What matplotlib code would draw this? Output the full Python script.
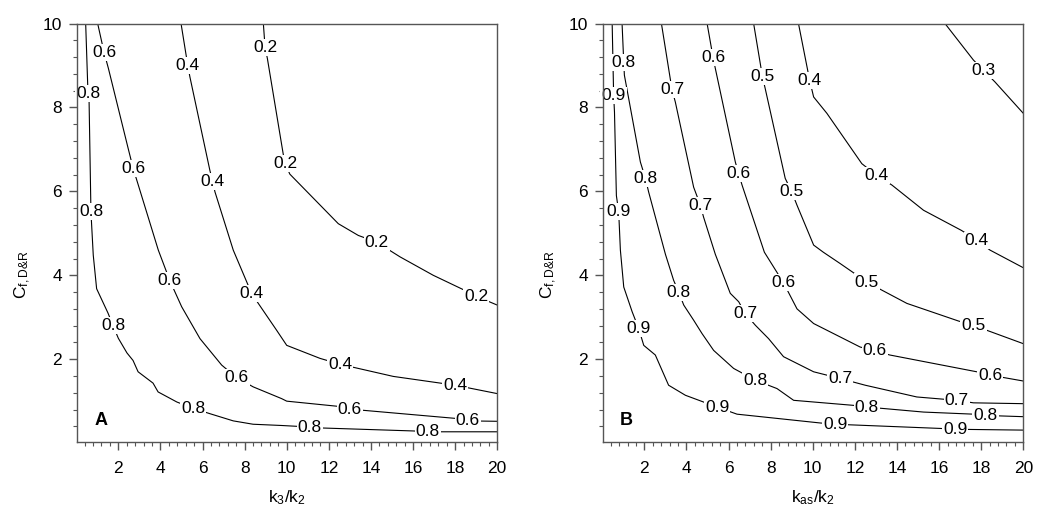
import matplotlib
matplotlib.use("Agg")
import matplotlib.pyplot as plt
from matplotlib.ticker import MultipleLocator

plt.rcParams['font.family'] = ['Liberation Sans', 'DejaVu Sans']
plt.rcParams['mathtext.default'] = 'regular'

### Panel A : contour lines ###
a_levels = [0.8, 0.6, 0.4, 0.2]
a_x = [
    [0.45, 0.56, 0.61, 0.70, 0.81, 0.97, 1.51, 1.75, 2.0, 2.41, 2.7, 2.94, 3.65, 3.89, 4.78, 5.55, 6.36, 7.46, 8.4, 9.76, 10.5, 11.1, 16.0, 16.7, 20.0],
    [1.02, 1.32, 1.53, 2.47, 2.71, 2.95, 3.9, 4.45, 5.01, 5.88, 6.91, 7.62, 8.41, 9.76, 10.0, 12.37, 13.0, 18.0, 18.6, 20.0],
    [4.98, 5.3, 5.4, 6.35, 6.48, 6.59, 7.46, 8.33, 8.65, 9.52, 10.0, 11.58, 12.53, 15.06, 18.0, 20.0],
    [8.89, 8.97, 9.08, 9.83, 9.92, 10.15, 12.45, 13.4, 14.27, 15.38, 16.96, 18.38, 19.0, 20.0],
]
a_y = [
    [10, 8.33, 8.2, 5.51, 4.48, 3.68, 3.1, 2.8, 2.5, 2.15, 1.97, 1.7, 1.43, 1.22, 0.98, 0.83, 0.7, 0.53, 0.45, 0.42, 0.4, 0.37, 0.29, 0.27, 0.27],
    [10, 9.32, 8.93, 7.02, 6.54, 6.15, 4.6, 3.87, 3.25, 2.49, 1.86, 1.56, 1.34, 1.06, 1.0, 0.88, 0.81, 0.59, 0.53, 0.52],
    [10, 9.0, 8.73, 6.5, 6.24, 5.99, 4.6, 3.57, 3.33, 2.69, 2.33, 2.02, 1.88, 1.59, 1.38, 1.18],
    [10, 9.44, 9.17, 6.9, 6.66, 6.41, 5.23, 4.95, 4.79, 4.44, 4.0, 3.66, 3.5, 3.29],
]
a_lab_x = [[0.56, 0.70, 1.75, 5.55, 11.1, 16.7],
           [1.32, 2.71, 4.45, 7.62, 13.0, 18.6],
           [5.3, 6.48, 8.33, 12.53, 18.0],
           [8.97, 9.92, 14.27, 19.0]]
a_lab_y = [[8.33, 5.51, 2.8, 0.83, 0.37, 0.27],
           [9.32, 6.54, 3.87, 1.56, 0.81, 0.53],
           [9.0, 6.24, 3.57, 1.88, 1.38],
           [9.44, 6.66, 4.79, 3.5]]

### Panel B ###
b_levels = [0.9, 0.8, 0.7, 0.6, 0.5, 0.4, 0.3]
b_x = [
    [0.47, 0.54, 0.58, 0.67, 0.78, 0.86, 1.02, 1.42, 1.73, 1.97, 2.52, 3.15, 3.95, 5.45, 6.4, 10.35, 11.07, 16.05, 16.76, 20.0],
    [0.94, 1.02, 1.05, 1.81, 2.05, 2.2, 3.0, 3.39, 3.63, 3.87, 4.34, 4.74, 5.29, 6.24, 7.27, 8.3, 9.09, 11.93, 12.57, 15.26, 17.63, 18.2, 20.0],
    [2.81, 3.31, 3.47, 4.34, 4.66, 4.81, 5.37, 6.08, 6.48, 6.79, 7.27, 7.9, 8.61, 10.04, 11.3, 12.49, 14.94, 16.84, 17.63, 20.0],
    [4.98, 5.26, 5.37, 6.32, 6.48, 6.64, 7.7, 8.61, 9.25, 10.04, 12.25, 12.95, 13.66, 17.79, 18.42, 20.0],
    [7.19, 7.61, 7.74, 8.69, 9.0, 9.25, 10.04, 10.5, 11.3, 12.57, 13.04, 14.47, 16.92, 17.63, 18.26, 20.0],
    [9.32, 9.85, 10.04, 10.67, 12.33, 13.04, 13.76, 15.26, 17.06, 17.79, 18.42, 20.0],
    [16.28, 17.63, 18.1, 18.65, 20.0],
]
b_y = [
    [10, 8.29, 7.89, 5.9, 5.51, 4.6, 3.72, 3.13, 2.73, 2.33, 2.1, 1.38, 1.14, 0.86, 0.69, 0.48, 0.45, 0.35, 0.33, 0.31],
    [10, 9.08, 8.77, 6.7, 6.31, 5.99, 4.5, 3.88, 3.6, 3.29, 2.93, 2.61, 2.21, 1.78, 1.5, 1.3, 1.02, 0.9, 0.86, 0.74, 0.69, 0.66, 0.63],
    [10, 8.43, 8.13, 6.1, 5.67, 5.39, 4.5, 3.57, 3.37, 3.09, 2.81, 2.49, 2.06, 1.7, 1.54, 1.38, 1.1, 1.02, 0.96, 0.94],
    [10, 9.2, 8.93, 6.7, 6.42, 6.15, 4.55, 3.82, 3.2, 2.85, 2.29, 2.2, 2.1, 1.7, 1.62, 1.48],
    [10, 8.73, 8.45, 6.31, 5.99, 5.67, 4.72, 4.55, 4.28, 3.84, 3.71, 3.33, 2.91, 2.81, 2.69, 2.37],
    [10, 8.65, 8.25, 7.86, 6.66, 6.38, 6.15, 5.55, 5.07, 4.84, 4.6, 4.18],
    [10, 9.13, 8.89, 8.61, 7.86],
]
b_lab_x = [[0.54, 0.78, 1.73, 5.45, 11.07, 16.76],
           [1.02, 2.05, 3.63, 7.27, 12.57, 18.2],
           [3.31, 4.66, 6.79, 11.3, 16.84],
           [5.26, 6.48, 8.61, 12.95, 18.42],
           [7.61, 9.0, 12.57, 17.63],
           [9.85, 13.04, 17.79],
           [18.1]]
b_lab_y = [[8.29, 5.51, 2.73, 0.86, 0.45, 0.33],
           [9.08, 6.31, 3.6, 1.5, 0.86, 0.66],
           [8.43, 5.67, 3.09, 1.54, 1.02],
           [9.2, 6.42, 3.82, 2.2, 1.62],
           [8.73, 5.99, 3.84, 2.81],
           [8.65, 6.38, 4.84],
           [8.89]]


def draw_panel(ax, levels, xs, ys, lab_x, lab_y, xlabel, letter):
    # lignes de niveau + étiquettes posées sur la ligne (fond blanc pour couper le trait)
    for lev, x, y, lx, ly in zip(levels, xs, ys, lab_x, lab_y):
        ax.plot(x, y, color='black', lw=0.8, zorder=1.5)
        for px, py in zip(lx, ly):
            ax.text(px, py, f"{lev:.1f}", fontsize=12.5, ha='center', va='center',
                    zorder=2, clip_on=False,
                    bbox=dict(facecolor='white', edgecolor='none', pad=0.8))

    ax.set_xlim(0.05, 20)
    ax.set_ylim(0.03, 10)
    ax.set_xticks(range(2, 21, 2))
    ax.set_yticks(range(2, 11, 2))
    ax.xaxis.set_minor_locator(MultipleLocator(0.4))
    ax.yaxis.set_minor_locator(MultipleLocator(0.4))
    ax.tick_params(which='both', direction='out', top=False, right=False,
                   color='#555555', labelsize=12.5)
    ax.tick_params(which='major', length=6, width=1.0)
    ax.tick_params(which='minor', length=3, width=0.8)
    ax.tick_params(axis='x', pad=8)
    ax.tick_params(axis='y', pad=5)
    for s in ax.spines.values():
        s.set_color('#555555')
        s.set_linewidth(1.0)

    ax.set_xlabel(xlabel, fontsize=12.5)
    ax.xaxis.set_label_coords(0.5, -0.11)
    ax.set_ylabel("C$_{f,D&R}$", fontsize=12.5)
    ax.yaxis.set_label_coords(-0.105, 0.40)
    ax.text(0.04, 0.05, letter, transform=ax.transAxes, fontsize=13,
            fontweight='bold', ha='left', va='center')


fig = plt.figure(figsize=(10.37, 5.12), dpi=100)
ax_a = fig.add_axes([0.0745, 0.137, 0.405, 0.817])
ax_b = fig.add_axes([0.5818, 0.137, 0.405, 0.817])

draw_panel(ax_a, a_levels, a_x, a_y, a_lab_x, a_lab_y, "k$_3$/k$_2$", "A")
draw_panel(ax_b, b_levels, b_x, b_y, b_lab_x, b_lab_y, "k$_{as}$/k$_2$", "B")

fig.savefig("out.png", dpi=100)
